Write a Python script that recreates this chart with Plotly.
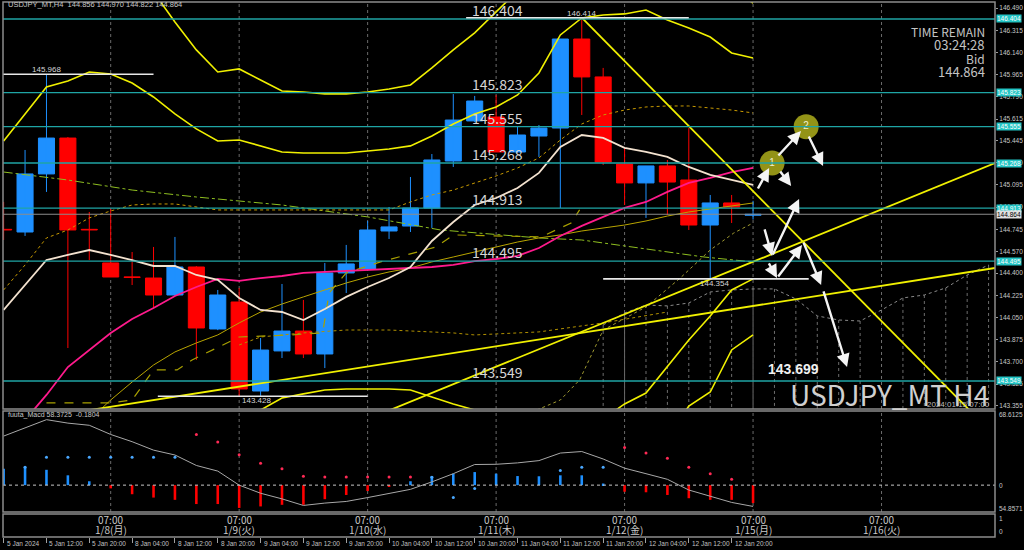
import plotly.graph_objects as go

W, H = 1024, 550

# ---------------- data ----------------
bar_idx = list(range(36))
opens = [144.745, 144.724, 145.182, 145.465, 144.745, 144.480, 144.370, 144.361, 144.227, 144.448,
         143.959, 144.172, 143.470, 143.786, 143.943, 143.762, 144.401, 144.432, 144.732, 144.771,
         144.913, 145.284, 145.600, 145.631, 145.355, 145.481, 145.544, 146.246, 145.947, 145.260,
         145.111, 145.245, 145.134, 144.779, 144.953, 144.856]
highs = [144.961, 145.371, 145.968, 145.473, 144.882, 144.913, 144.566, 144.606, 144.685, 144.455,
         144.267, 144.282, 143.888, 144.314, 144.188, 144.480, 144.622, 144.811, 144.921, 145.158,
         145.339, 145.812, 145.797, 145.804, 145.560, 145.568, 146.246, 146.414, 146.018, 145.387,
         145.245, 145.292, 145.544, 145.016, 145.016, 144.970]
lows = [144.661, 144.693, 145.040, 143.809, 144.503, 144.369, 144.306, 144.125, 144.220, 143.715,
        143.950, 143.423, 143.428, 143.730, 143.730, 143.651, 144.243, 144.420, 144.669, 144.724,
        144.756, 145.237, 145.590, 145.355, 145.350, 145.316, 144.913, 145.647, 145.253, 144.937,
        144.835, 144.858, 144.740, 144.354, 144.795, 144.822]
closes = [144.740, 145.182, 145.465, 144.740, 144.740, 144.369, 144.365, 144.227, 144.448, 143.967,
          144.227, 143.486, 143.793, 143.943, 143.762, 144.401, 144.472, 144.740, 144.764, 144.913,
          145.292, 145.607, 145.757, 145.355, 145.489, 145.544, 146.246, 145.947, 145.276, 145.111,
          145.245, 145.118, 144.779, 144.953, 144.921, 144.864]

# Bollinger bands (3 sigma upper / lower start at bar 4)
bb3_bars = list(range(4, 36))
bb_up3 = [147.658, 147.343, 146.909, 146.617, 146.380, 146.160, 145.986, 146.010, 145.923, 145.836,
          145.828, 145.813, 145.813, 145.828, 145.852, 145.884, 146.018, 146.160, 146.294, 146.459,
          146.617, 146.791, 147.027, 147.185, 147.224, 147.185, 147.106, 146.988, 146.869, 146.751,
          146.633, 146.530]
bb_lo3 = [139.929, 140.513, 141.167, 141.633, 142.058, 142.421, 142.721, 142.666, 142.800, 142.918,
          142.973, 143.005, 143.021, 143.021, 143.013, 142.997, 142.879, 142.768, 142.697, 142.563,
          142.453, 142.405, 142.358, 142.358, 142.461, 142.642, 142.816, 143.092, 143.352, 143.462,
          143.794, 143.912]
bb_up2 = [145.442, 145.655, 145.868, 145.915, 145.986, 145.970, 145.899, 145.789, 145.655, 145.537,
          145.442, 145.450, 145.403, 145.355, 145.347, 145.347, 145.347, 145.363, 145.379, 145.403,
          145.481, 145.576, 145.655, 145.710, 145.805, 145.978, 146.278, 146.412, 146.436, 146.444,
          146.475, 146.396, 146.333, 146.262, 146.136, 146.097]
bb_lo2 = [141.664, 141.885, 142.177, 142.461, 142.784, 143.044, 143.265, 143.226, 143.320, 143.415,
          143.447, 143.478, 143.486, 143.486, 143.486, 143.478, 143.423, 143.368, 143.320, 143.312,
          143.265, 143.218, 143.107, 143.131, 143.249, 143.368, 143.454, 143.667, 143.872, 144.062,
          144.267, 144.354]
mid_ma = [143.044, 143.241, 143.439, 143.659, 143.794, 143.928, 144.038, 144.125, 144.219, 144.290,
          144.354, 144.338, 144.361, 144.377, 144.401, 144.409, 144.417, 144.425, 144.432, 144.440,
          144.448, 144.464, 144.495, 144.511, 144.535, 144.598, 144.693, 144.772, 144.843, 144.914,
          144.961, 145.040, 145.111, 145.150, 145.197, 145.229]
fast_ma = [144.109, 144.306, 144.503, 144.543, 144.582, 144.543, 144.503, 144.456, 144.456, 144.385,
           144.346, 144.204, 144.109, 144.093, 144.030, 144.117, 144.212, 144.290, 144.361, 144.448,
           144.653, 144.803, 144.937, 144.992, 145.071, 145.190, 145.395, 145.489, 145.466, 145.387,
           145.355, 145.316, 145.237, 145.174, 145.134, 145.095]
olive_ma = [143.241, 143.399, 143.541, 143.675, 143.778, 143.849, 143.912, 144.007, 144.093, 144.156,
            144.212, 144.267, 144.322, 144.369, 144.409, 144.440, 144.488, 144.527, 144.566, 144.606,
            144.645, 144.677, 144.701, 144.732, 144.756, 144.779, 144.811, 144.850, 144.882, 144.906,
            144.929, 144.953]
dot_a = [144.267, 144.464, 144.677, 144.740, 144.835, 144.890, 144.937, 144.945, 144.945, 144.921,
         144.898, 144.898, 144.898, 144.898, 144.898, 144.898, 144.898, 144.898, 144.898, 144.961,
         145.016, 145.055, 145.111, 145.166, 145.229, 145.308, 145.450, 145.576, 145.647, 145.686,
         145.710, 145.718, 145.718, 145.702, 145.686, 145.663]
long_ma_bars = [0, 3, 6, 9, 13, 17, 20.4, 25, 27, 29.6, 32.7, 35]
long_ma = [145.197, 145.134, 145.055, 145.000, 144.937, 144.843, 144.740, 144.677, 144.661, 144.598, 144.527, 144.488]
tenkan_bars = [2, 5, 6, 7, 8.1, 8.8, 11, 13.4, 14.9, 15.2, 16, 17.6, 20.2, 21, 25.1, 26.5, 26.9]
tenkan = [143.376, 143.376, 143.399, 143.636, 143.636, 143.715, 143.896, 143.912, 143.928, 144.243,
          144.401, 144.488, 144.606, 144.701, 144.685, 144.795, 144.898]
dot_b_bars = [11, 12, 14, 16, 18, 21, 22, 25, 28, 31]
dot_b = [143.833, 143.896, 143.928, 143.951, 143.951, 143.928, 143.912, 143.936, 144.007, 144.093]
dot_c_bars = [24.9, 26, 26.9, 28, 30, 31.6, 33, 34.1, 35]
dot_c = [143.320, 143.399, 143.557, 143.951, 144.133, 144.361, 144.582, 144.716, 144.795]
cloud_bars = list(range(28, 47))
cloud_top = [143.991, 144.085, 144.148, 144.141, 144.164, 144.251, 144.267, 144.275, 144.275, 144.196,
             144.062, 144.030, 144.022, 144.109, 144.204, 144.227, 144.283, 144.385, 144.464]

trend_down = ([27, 45.1], [146.414, 143.320])
trend_up_long = ([4.04, 46.3], [143.320, 144.440])
trend_up_steep = ([18.05, 46.3], [143.320, 145.268])

levels_cyan = [146.404, 145.823, 145.555, 145.268, 144.913, 144.495, 143.549]
bid_price = 144.864
white_lvls = [145.968, 143.428, 146.414, 144.354]
white_start = [-0.1, 7.2, 21.6, 28.0]
white_end = [7.0, 17.0, 32.0, 37.6]
white_lbl_bar = [2.0, 11.8, 27.0, 33.2]
white_lbl_above = [True, False, True, False]

price_ticks = [146.490, 146.315, 146.140, 145.965, 145.790, 145.615, 145.445, 145.270, 145.095, 144.920,
               144.745, 144.570, 144.400, 144.225, 144.050, 143.875, 143.700, 143.525, 143.355]

# projection arrows: tail (bar, price) -> head (bar, price)
arrow_tail_bar = [35.19, 36.12, 37.57, 36.22, 35.52, 35.89, 35.70, 36.12, 37.33, 38.27]
arrow_tail_px = [145.055, 145.316, 145.489, 145.213, 144.756, 144.535, 144.488, 144.361, 144.652, 144.267]
arrow_head_bar = [35.75, 37.24, 38.27, 36.78, 35.89, 37.15, 36.12, 37.29, 38.18, 39.39]
arrow_head_px = [145.229, 145.521, 145.245, 145.087, 144.535, 144.985, 144.361, 144.622, 144.306, 143.659]
circle_bars = [35.89, 37.48]
circle_px = [145.268, 145.555]
circle_txt = ["1", "2"]
target_bar, target_px, target_txt = 36.9, 143.644, "143.699"

# oscillator sub window
hist = [15.2, 17.2, 14.2, 9.1, 3.6, -3.0, -8.4, -11.5, -13.6, -17.5, -17.5, -21.1, -19.7, -18.2, -18.2,
        -13.0, -9.1, -5.4, -1.0, 3.6, 8.4, 10.6, 12.1, 10.6, 8.4, 8.2, 9.1, 9.1, 1.5, -6.1, -6.6, -9.1,
        -12.1, -13.6, -13.6, -16.6]
dots = [None, 16.6, 25.7, 25.7, 25.7, 25.7, 25.7, 25.7, 25.7, 46.9, 39.9, 28.1, 20.2, 15.2, 8.2, 7.5,
        7.5, 7.5, 7.5, 7.5, 7.3, -11.5, -3.0, None, None, None, 13.6, 16.6, 16.6, 34.8, 29.7, 24.8,
        16.6, 10.6, 5.4, None]
dot_side = ["b"] * 9 + ["r"] * 11 + ["b"] * 9 + ["r"] * 7
signal = [45.4, 53.2, 60.6, 57.4, 55.4, 46.9, 40.2, 32.4, 27.9, 18.2, 13.0, 0.0, -7.5, -12.7, -18.8,
          -16.6, -15.1, -11.5, -7.5, -3.9, 3.0, 10.6, 19.1, 19.3, 20.6, 22.7, 29.7, 31.1, 24.2, 15.7,
          10.6, 5.4, -4.5, -10.6, -16.0, -19.7]
sub_range = [-24.8571, 68.6125]

sep_bars = [5, 11, 17, 23, 29, 35, 41]
sep_time = ["07:00"] * 7
sep_date = ["1/8(月)", "1/9(火)", "1/10(水)", "1/11(木)", "1/12(金)", "1/15(月)", "1/16(火)"]
date_tick_bars = list(range(0, 36, 2))
date_tick_text = ["5 Jan 2024", "5 Jan 12:00", "5 Jan 20:00", "8 Jan 04:00", "8 Jan 12:00", "8 Jan 20:00",
                  "9 Jan 04:00", "9 Jan 12:00", "9 Jan 20:00", "10 Jan 04:00", "10 Jan 12:00",
                  "10 Jan 20:00", "11 Jan 04:00", "11 Jan 12:00", "11 Jan 20:00", "12 Jan 04:00",
                  "12 Jan 12:00", "12 Jan 20:00"]

# ---------------- styling / layout geometry ----------------
BLUE, RED = "#1e90ff", "#ff0000"
YEL = "#f0f000"
CYAN = "#1fa5a5"
TXT = "#d6d6d6"
X_RANGE = [-0.03, 46.30]
P_RANGE = [143.328, 146.538]
XD = [3 / W, 995 / W]
YD_MAIN = [1 - 409 / H, 1 - 2 / H]
YD_SUB = [1 - 512 / H, 1 - 411 / H]
YD_TIME = [1 - 537 / H, 1 - 514 / H]


def px(x):
    return x / W


def py(y):
    return 1 - y / H


fig = go.Figure()

# cloud hatch (dotted verticals)
hx, hy = [], []
for b, t in zip(cloud_bars, cloud_top):
    hx += [b, b, None]
    hy += [t, P_RANGE[0], None]
fig.add_trace(go.Scatter(x=hx, y=hy, mode="lines", line=dict(color="#6e6e6e", width=1, dash="dot"),
                         hoverinfo="skip"))
fig.add_trace(go.Scatter(x=cloud_bars, y=cloud_top, mode="lines",
                         line=dict(color="#8a8a8a", width=1, dash="dot")))

# candle bodies
cols = [BLUE if c >= o else RED for o, c in zip(opens, closes)]
fig.add_trace(go.Bar(x=bar_idx, y=[abs(c - o) for o, c in zip(opens, closes)],
                     base=[min(o, c) for o, c in zip(opens, closes)], width=0.75,
                     marker=dict(color=cols, line=dict(color=cols, width=1))))
for colr in (BLUE, RED):
    wx, wy = [], []
    for i, o, h, l, c in zip(bar_idx, opens, highs, lows, closes):
        if (BLUE if c >= o else RED) == colr:
            wx += [i, i, None]
            wy += [l, h, None]
    fig.add_trace(go.Scatter(x=wx, y=wy, mode="lines", line=dict(color=colr, width=1)))

# indicator lines
fig.add_trace(go.Scatter(x=long_ma_bars, y=long_ma, mode="lines",
                         line=dict(color="#8fbf20", width=1, dash="dashdot")))
fig.add_trace(go.Scatter(x=bar_idx, y=dot_a, mode="lines", line=dict(color="#c89a00", width=1, dash="dot")))
fig.add_trace(go.Scatter(x=dot_b_bars, y=dot_b, mode="lines", line=dict(color="#b09000", width=1, dash="dot")))
fig.add_trace(go.Scatter(x=dot_c_bars, y=dot_c, mode="lines", line=dict(color="#a09a30", width=1, dash="dot")))
fig.add_trace(go.Scatter(x=tenkan_bars, y=tenkan, mode="lines", line=dict(color="#a8a000", width=1.2, dash="dash")))
fig.add_trace(go.Scatter(x=bb3_bars, y=olive_ma, mode="lines", line=dict(color="#b8a400", width=1)))
for ys, xs in ((bb_up3, bb3_bars), (bb_lo3, bb3_bars), (bb_up2, bar_idx), (bb_lo2, bb3_bars)):
    fig.add_trace(go.Scatter(x=xs, y=ys, mode="lines", line=dict(color=YEL, width=1.6)))
fig.add_trace(go.Scatter(x=bar_idx, y=mid_ma, mode="lines", line=dict(color="#ff1a8c", width=1.8)))
fig.add_trace(go.Scatter(x=bar_idx, y=fast_ma, mode="lines", line=dict(color="#f3e2cf", width=1.8)))
for tb, tp in (trend_down, trend_up_long, trend_up_steep):
    fig.add_trace(go.Scatter(x=tb, y=tp, mode="lines", line=dict(color=YEL, width=1.8)))

# circles
fig.add_trace(go.Scatter(x=circle_bars, y=circle_px, mode="markers+text", text=circle_txt,
                         textposition="middle center",
                         textfont=dict(color="#f0f0d0", size=10, family="Liberation Sans"),
                         marker=dict(size=25, color="rgba(160,160,25,0.92)", line=dict(width=0))))

# ---------------- sub window ----------------
fig.add_trace(go.Bar(x=bar_idx, y=hist, width=0.12, xaxis="x2", yaxis="y2",
                     marker=dict(color=[BLUE if v > 0 else RED for v in hist], line=dict(width=0))))
fig.add_trace(go.Scatter(x=bar_idx, y=signal, mode="lines", xaxis="x2", yaxis="y2",
                         line=dict(color="#a8a8a8", width=1)))
fig.add_trace(go.Scatter(x=bar_idx, y=dots, mode="markers", xaxis="x2", yaxis="y2",
                         marker=dict(size=3, color=["#4aa8ff" if s == "b" else "#ff2a55" for s in dot_side])))
fig.add_trace(go.Scatter(x=X_RANGE, y=[0, 0], mode="lines", xaxis="x2", yaxis="y2",
                         line=dict(color="#c8c8c8", width=1, dash="dot")))

# invisible trace for time pane
fig.add_trace(go.Scatter(x=date_tick_bars, y=[0.5] * len(date_tick_bars), mode="markers",
                         xaxis="x3", yaxis="y3", marker=dict(size=1, color="rgba(0,0,0,0)")))

shapes = []
# separators (vertical dotted)
for b in sep_bars:
    for yr in ("y", "y2"):
        shapes.append(dict(type="line", xref="x", yref=yr + " domain", x0=b, x1=b, y0=0, y1=1,
                           line=dict(color="#6a6a6a", width=1, dash="dot"), layer="below"))
# cyan levels
for lv in levels_cyan:
    shapes.append(dict(type="line", xref="paper", yref="y", x0=XD[0], x1=XD[1], y0=lv, y1=lv,
                       line=dict(color=CYAN, width=1.3)))
shapes.append(dict(type="line", xref="paper", yref="y", x0=XD[0], x1=XD[1], y0=bid_price, y1=bid_price,
                   line=dict(color="#8c8c8c", width=1)))
for lv, s, e in zip(white_lvls, white_start, white_end):
    shapes.append(dict(type="line", xref="x", yref="y", x0=s, x1=e, y0=lv, y1=lv,
                       line=dict(color="#e8e8e8", width=1.6)))
# pane frames
for yd in (YD_MAIN, YD_SUB, YD_TIME):
    shapes.append(dict(type="rect", xref="paper", yref="paper", x0=XD[0], x1=XD[1], y0=yd[0], y1=yd[1],
                       line=dict(color="#8c8c8c", width=1.5)))

ann = []
for lv in levels_cyan:
    ann.append(dict(x=23.05, y=lv, xref="x", yref="y", text=f"{lv:.3f}", showarrow=False,
                    yanchor="bottom", yshift=-3,
                    font=dict(family="Noto Sans CJK JP", size=14, color=TXT)))
for lv, b, above in zip(white_lvls, white_lbl_bar, white_lbl_above):
    ann.append(dict(x=b, y=lv, xref="x", yref="y", text=f"{lv:.3f}", showarrow=False,
                    yanchor="bottom" if above else "top", yshift=-2 if above else 2,
                    font=dict(family="Liberation Sans", size=8, color=TXT)))
# axis tags
for lv in levels_cyan:
    ann.append(dict(x=px(996), y=lv, xref="paper", yref="y", text=f"{lv:.3f}", showarrow=False,
                    xanchor="left", bgcolor="#22c4c4", borderpad=0,
                    font=dict(family="Liberation Sans", size=6.5, color="#ffffff")))
ann.append(dict(x=px(996), y=bid_price, xref="paper", yref="y", text=f"{bid_price:.3f}", showarrow=False,
                xanchor="left", bgcolor="#e0e0e0", borderpad=0,
                font=dict(family="Liberation Sans", size=6.5, color="#000000")))
# arrows
for tb, tp, hb, hp in zip(arrow_tail_bar, arrow_tail_px, arrow_head_bar, arrow_head_px):
    ann.append(dict(x=hb, y=hp, ax=tb, ay=tp, xref="x", yref="y", axref="x", ayref="y", text="",
                    showarrow=True, arrowhead=2, arrowsize=1.1, arrowwidth=2.4, arrowcolor="#f4f4f4"))
ann.append(dict(x=target_bar, y=target_px, xref="x", yref="y", text=f"<b>{target_txt}</b>", showarrow=False,
                font=dict(family="Liberation Sans", size=14, color="#f0f0f0")))
# corner texts
ann.append(dict(x=px(6), y=py(5), xref="paper", yref="paper", xanchor="left", yanchor="middle", showarrow=False,
                text="USDJPY_MT,H4  144.856 144.970 144.822 144.864",
                font=dict(family="Liberation Sans", size=7.5, color="#c8c8c8")))
for t, yy, sz in (("TIME REMAIN", 31, 12), ("03:24:28", 45, 13), ("Bid", 58, 12), ("144.864", 72, 13)):
    ann.append(dict(x=px(987), y=py(yy), xref="paper", yref="paper", xanchor="right", yanchor="middle",
                    showarrow=False, text=t, font=dict(family="Noto Sans CJK JP", size=sz, color="#c4c4c4")))
ann.append(dict(x=px(991), y=py(394), xref="paper", yref="paper", xanchor="right", yanchor="middle",
                showarrow=False, text="USDJPY_MT H4",
                font=dict(family="Noto Sans CJK JP", size=28, color="#d0d0d0")))
ann.append(dict(x=px(992), y=py(404), xref="paper", yref="paper", xanchor="right", yanchor="middle",
                showarrow=False, text="2024.01.15 07:00",
                font=dict(family="Liberation Sans", size=8, color="#bdbdbd")))
# sub window texts
ann.append(dict(x=px(6), y=py(415), xref="paper", yref="paper", xanchor="left", yanchor="middle",
                showarrow=False, text="fuuta_Macd 58.3725  -0.1804",
                font=dict(family="Liberation Sans", size=7, color="#c8c8c8")))
for t, yy in (("68.6125", 414), ("0", 485), ("54.8571", 508), ("1", 518), ("0", 531)):
    ann.append(dict(x=px(997), y=py(yy), xref="paper", yref="paper", xanchor="left", yanchor="middle",
                    showarrow=False, text=t, font=dict(family="Liberation Sans", size=6.5, color="#c8c8c8")))
# time pane labels
for b, t, d in zip(sep_bars, sep_time, sep_date):
    ann.append(dict(x=b, y=py(519), xref="x3", yref="paper", text=t, showarrow=False, yanchor="middle",
                    font=dict(family="Noto Sans CJK JP", size=10, color="#c8c8c8")))
    ann.append(dict(x=b, y=py(529), xref="x3", yref="paper", text=d, showarrow=False, yanchor="middle",
                    font=dict(family="Noto Sans CJK JP", size=10, color="#c8c8c8")))
for b, t in zip(date_tick_bars, date_tick_text):
    ann.append(dict(x=b, y=py(543), xref="x3", yref="paper", text=t, showarrow=False, xanchor="left",
                    yanchor="middle", xshift=1, font=dict(family="Liberation Sans", size=6.5, color="#c0c0c0")))

ax_common = dict(range=X_RANGE, domain=XD, showgrid=False, zeroline=False, showticklabels=False,
                 fixedrange=True)
fig.update_layout(
    width=W, height=H, margin=dict(l=0, r=0, t=0, b=0),
    paper_bgcolor="#000000", plot_bgcolor="#000000", showlegend=False, barmode="overlay",
    xaxis=dict(**ax_common, anchor="y", showline=False),
    xaxis2=dict(**ax_common, anchor="y2", showline=False),
    xaxis3=dict(**ax_common, anchor="y3", tickvals=date_tick_bars, ticks="outside", ticklen=5,
                tickcolor="#a0a0a0", showline=False),
    yaxis=dict(domain=YD_MAIN, range=P_RANGE, side="right", anchor="x", showgrid=False, zeroline=False,
               tickvals=price_ticks, ticktext=[f"{v:.3f}" for v in price_ticks], ticks="outside",
               ticklen=2, tickcolor="#9a9a9a", tickfont=dict(family="Liberation Sans", size=6.5, color="#c8c8c8"),
               automargin=False),
    yaxis2=dict(domain=YD_SUB, range=sub_range, anchor="x2", showgrid=False, zeroline=False,
                showticklabels=False),
    yaxis3=dict(domain=YD_TIME, range=[0, 1], anchor="x3", showgrid=False, zeroline=False,
                showticklabels=False),
    shapes=shapes, annotations=ann,
)
fig.write_html("out.html", config={"displayModeBar": False},
               post_script="document.body.style.margin='0px';document.body.style.padding='0px';"
                           "document.body.style.background='#000000';")
